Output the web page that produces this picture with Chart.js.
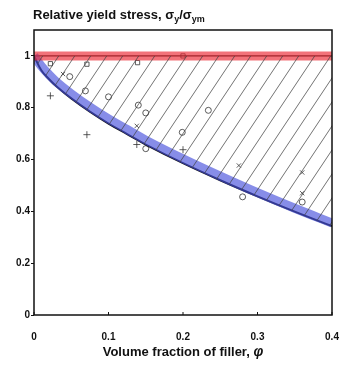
<!DOCTYPE html>
<html>
<head>
<meta charset="utf-8">
<script src="https://cdn.jsdelivr.net/npm/chart.js@4.4.1/dist/chart.umd.min.js"></script>
<style>
  html, body { margin: 0; padding: 0; background: #fff; }
  #wrap { width: 342px; height: 371px; }
</style>
</head>
<body>
<div id="wrap"><canvas id="yieldChart" width="342" height="371"></canvas></div>
<script>
// values
var curvePhi = [0, 0.01, 0.02, 0.03, 0.05, 0.075, 0.1, 0.125, 0.15, 0.2, 0.25, 0.3, 0.35, 0.4];
var curveY   = [1, 0.944, 0.911, 0.883, 0.836, 0.785, 0.739, 0.698, 0.658, 0.586, 0.52, 0.458, 0.399, 0.343];
var blueY    = [1, 0.96, 0.928, 0.9, 0.854, 0.803, 0.757, 0.716, 0.675, 0.603, 0.536, 0.472, 0.412, 0.355];
var topPhi   = [0, 0.4];
var topY     = [1, 1];
var squares  = [[0.022, 0.97], [0.071, 0.968], [0.139, 0.974], [0.2, 1.0]];
var crosses  = [[0.039, 0.93], [0.138, 0.73], [0.275, 0.577], [0.36, 0.55], [0.36, 0.47]];
var pluses   = [[0.022, 0.846], [0.071, 0.696], [0.138, 0.658], [0.2, 0.638]];
var rounds   = [[0.048, 0.92], [0.069, 0.865], [0.1, 0.842], [0.14, 0.81], [0.15, 0.78],
                [0.15, 0.642], [0.199, 0.705], [0.234, 0.79], [0.28, 0.456], [0.36, 0.436]];
var xTicks = [0, 0.1, 0.2, 0.3, 0.4];
var yTicks = [0, 0.2, 0.4, 0.6, 0.8, 1];

function pts(xs, ys) {
    return xs.map(function(x, i) { return {x: x, y: ys[i]}; });
}
function pairs(list) {
    return list.map(function(p) { return {x: p[0], y: p[1]}; });
}

// diagonal hatch tile
function hatchPattern() {
    var w = 16, h = 24;
    var c = document.createElement('canvas');
    c.width = w; c.height = h;
    var g = c.getContext('2d');
    g.strokeStyle = '#444';
    g.lineWidth = 0.75;
    [-w, 0, w].forEach(function(dx) {
        g.beginPath();
        g.moveTo(dx - 2, h + 2 * h / w);
        g.lineTo(dx + w + 2, -2 * h / w);
        g.stroke();
    });
    return g.createPattern(c, 'repeat');
}

var font = "'Liberation Sans Narrow', 'Liberation Sans', Arial, sans-serif";

var labelsPlugin = {
    id: 'labels',
    afterDraw: function(chart) {
        var ctx = chart.ctx, a = chart.chartArea;
        ctx.save();
        // box around the plot
        ctx.strokeStyle = '#111';
        ctx.lineWidth = 1.5;
        ctx.strokeRect(a.left, a.top, a.right - a.left, a.bottom - a.top);
        // small inner ticks on x axis
        var xs = chart.scales.x;
        ctx.lineWidth = 1;
        xTicks.forEach(function(v) {
            var px = xs.getPixelForValue(v);
            ctx.beginPath();
            ctx.moveTo(px, a.bottom);
            ctx.lineTo(px, a.bottom - 3);
            ctx.stroke();
        });
        ctx.fillStyle = '#111';
        ctx.textBaseline = 'alphabetic';
        // title with subscripts
        var x = 33, y = 19;
        var parts = [['Relative yield stress, ', 13, 0], ['\u03c3', 13, 0], ['y', 9, 3],
                     ['/', 13, 0], ['\u03c3', 13, 0], ['ym', 9, 3]];
        parts.forEach(function(p) {
            ctx.font = 'bold ' + p[1] + 'px ' + font;
            ctx.fillText(p[0], x, y + p[2]);
            x += ctx.measureText(p[0]).width;
        });
        // x axis title
        ctx.font = 'bold 13px ' + font;
        var t1 = 'Volume fraction of filler, ';
        var w1 = ctx.measureText(t1).width;
        ctx.font = 'italic bold 14px ' + font;
        var w2 = ctx.measureText('\u03c6').width;
        var sx = (a.left + a.right) / 2 - (w1 + w2) / 2;
        ctx.font = 'bold 13px ' + font;
        ctx.fillText(t1, sx, 356);
        ctx.font = 'italic bold 14px ' + font;
        ctx.fillText('\u03c6', sx + w1, 356);
        ctx.restore();
    }
};

var ctx = document.getElementById('yieldChart').getContext('2d');
var yieldChart = new Chart(ctx, {
    type: 'scatter',
    data: {
        datasets: [
            {   // hatched region between y=1 and the curve
                data: pts(curvePhi, curveY),
                showLine: true, pointRadius: 0, borderWidth: 0,
                backgroundColor: hatchPattern(),
                fill: {target: 1}
            },
            {
                data: pts(topPhi, topY),
                showLine: true, pointRadius: 0, borderWidth: 0
            },
            {
                data: pts(topPhi, topY),
                showLine: true, pointRadius: 0,
                borderColor: 'rgba(235, 40, 50, 0.65)', borderWidth: 9
            },
            {
                data: pts(curvePhi, blueY),
                showLine: true, pointRadius: 0, tension: 0.4,
                borderColor: 'rgba(70, 80, 220, 0.65)', borderWidth: 9
            },
            {
                data: pts(topPhi, topY),
                showLine: true, pointRadius: 0,
                borderColor: '#222', borderWidth: 1.2
            },
            {
                data: pts(curvePhi, curveY),
                showLine: true, pointRadius: 0, tension: 0.4,
                borderColor: '#111', borderWidth: 2
            },
            {
                data: pairs(squares), pointStyle: 'rect', pointRadius: 3,
                borderColor: '#333', borderWidth: 0.8, backgroundColor: 'transparent'
            },
            {
                data: pairs(crosses), pointStyle: 'crossRot', pointRadius: 3,
                borderColor: '#333', borderWidth: 0.8
            },
            {
                data: pairs(pluses), pointStyle: 'cross', pointRadius: 3.5,
                borderColor: '#333', borderWidth: 0.8
            },
            {
                data: pairs(rounds), pointStyle: 'circle', pointRadius: 3,
                borderColor: '#333', borderWidth: 0.8, backgroundColor: 'transparent'
            }
        ]
    },
    options: {
        responsive: false,
        animation: false,
        devicePixelRatio: 1,
        layout: {padding: {top: 30, right: 10, left: 0, bottom: 30}},
        plugins: {legend: {display: false}, tooltip: {enabled: false}},
        scales: {
            x: {
                type: 'linear', min: 0, max: 0.4,
                afterBuildTicks: function(s) { s.ticks = xTicks.map(function(v) { return {value: v}; }); },
                afterFit: function(s) { s.height = 26; s.paddingRight = 0; s.paddingLeft = 0; },
                grid: {display: false},
                border: {display: false},
                ticks: {
                    color: '#111', padding: 8,
                    font: {family: font, size: 10, weight: 'bold'},
                    callback: function(v) { return String(v); }
                }
            },
            y: {
                min: 0, max: 1.1,
                afterBuildTicks: function(s) { s.ticks = yTicks.map(function(v) { return {value: v}; }); },
                afterFit: function(s) { s.width = 34; },
                grid: {display: true, drawOnChartArea: false, tickLength: 3, color: '#111'},
                border: {display: false},
                ticks: {
                    color: '#111', padding: 1,
                    font: {family: font, size: 10, weight: 'bold'},
                    callback: function(v) { return String(v); }
                }
            }
        }
    },
    plugins: [labelsPlugin]
});
</script>
</body>
</html>
